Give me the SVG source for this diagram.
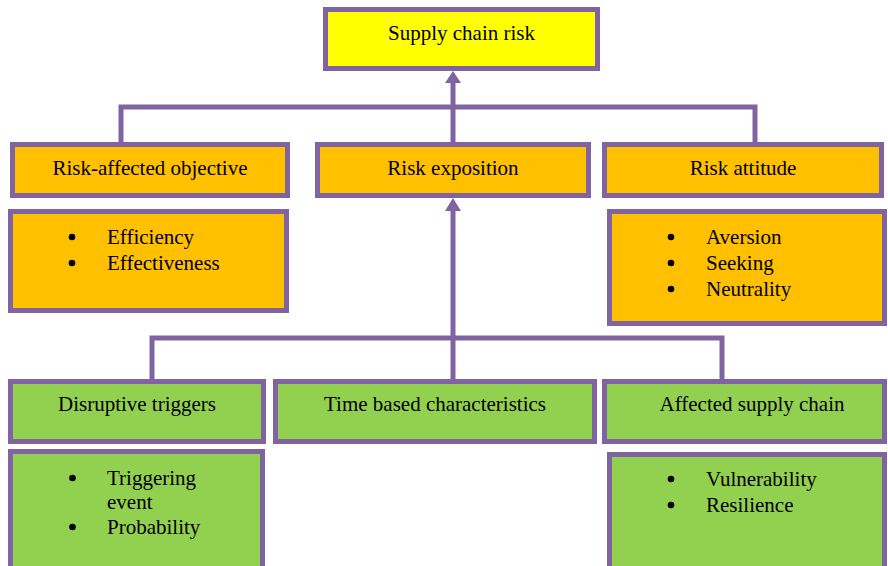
<svg xmlns="http://www.w3.org/2000/svg" width="888" height="566" viewBox="0 0 888 566">
  <style>
    .box { stroke: #8064A2; stroke-width: 5; }
    .yellow { fill: #FFFF00; }
    .orange { fill: #FFC000; }
    .green { fill: #92D050; }
    .lbl { font-size: 21px; fill: #000; }
    .mid { text-anchor: middle; }
    .wire { fill: none; stroke: #8064A2; stroke-width: 5; stroke-linejoin: miter; }
    .head { fill: #8064A2; }
    .dot { fill: #000; }
  </style>

  <g id="connectors">
    <path class="wire" d="M121,143 V107 H755 V143"/>
    <path class="wire" d="M453,143 V82"/>
    <polygon class="head" points="445,83 461,83 453,71"/>
    <path class="wire" d="M152,380 V338 H722 V380"/>
    <path class="wire" d="M453,380 V210"/>
    <polygon class="head" points="445,211 461,211 453,198"/>
  </g>

  <g font-family="'Liberation Serif', 'Times New Roman', serif">
    <g id="supply-chain-risk">
      <rect class="box yellow" x="325.5" y="9.5" width="272" height="59"/>
      <text class="lbl mid" x="461.5" y="40">Supply chain risk</text>
    </g>

    <g id="risk-affected-objective">
      <rect class="box orange" x="12.5" y="144.5" width="275" height="51"/>
      <text class="lbl mid" x="150" y="175">Risk-affected objective</text>
    </g>

    <g id="risk-exposition">
      <rect class="box orange" x="317.5" y="144.5" width="271" height="51"/>
      <text class="lbl mid" x="453" y="175">Risk exposition</text>
    </g>

    <g id="risk-attitude">
      <rect class="box orange" x="604.5" y="144.5" width="277" height="51"/>
      <text class="lbl mid" x="743" y="175">Risk attitude</text>
    </g>

    <g id="objective-items">
      <rect class="box orange" x="10.5" y="211.5" width="276" height="99"/>
      <circle class="dot" cx="72" cy="237" r="3.3"/>
      <text class="lbl" x="107" y="244">Efficiency</text>
      <circle class="dot" cx="72" cy="263" r="3.3"/>
      <text class="lbl" x="107" y="270">Effectiveness</text>
    </g>

    <g id="attitude-items">
      <rect class="box orange" x="609.5" y="211.5" width="275" height="112"/>
      <circle class="dot" cx="671" cy="237" r="3.3"/>
      <text class="lbl" x="706" y="244">Aversion</text>
      <circle class="dot" cx="671" cy="263" r="3.3"/>
      <text class="lbl" x="706" y="270">Seeking</text>
      <circle class="dot" cx="671" cy="289" r="3.3"/>
      <text class="lbl" x="706" y="296">Neutrality</text>
    </g>

    <g id="disruptive-triggers">
      <rect class="box green" x="10.5" y="381.5" width="253" height="60"/>
      <text class="lbl mid" x="137" y="411">Disruptive triggers</text>
    </g>

    <g id="time-based-characteristics">
      <rect class="box green" x="275.5" y="381.5" width="319" height="60"/>
      <text class="lbl mid" x="435" y="411">Time based characteristics</text>
    </g>

    <g id="affected-supply-chain">
      <rect class="box green" x="604.5" y="381.5" width="280" height="60"/>
      <text class="lbl mid" x="752" y="411">Affected supply chain</text>
    </g>

    <g id="trigger-items">
      <rect class="box green" x="10.5" y="451.5" width="252" height="122"/>
      <circle class="dot" cx="72.5" cy="478" r="3.3"/>
      <text class="lbl" x="107" y="485">Triggering</text>
      <text class="lbl" x="107" y="509">event</text>
      <circle class="dot" cx="72.5" cy="527" r="3.3"/>
      <text class="lbl" x="107" y="534">Probability</text>
    </g>

    <g id="supply-chain-items">
      <rect class="box green" x="609.5" y="454.5" width="275" height="122"/>
      <circle class="dot" cx="671" cy="479" r="3.3"/>
      <text class="lbl" x="706" y="486">Vulnerability</text>
      <circle class="dot" cx="671" cy="505" r="3.3"/>
      <text class="lbl" x="706" y="512">Resilience</text>
    </g>
  </g>
</svg>
